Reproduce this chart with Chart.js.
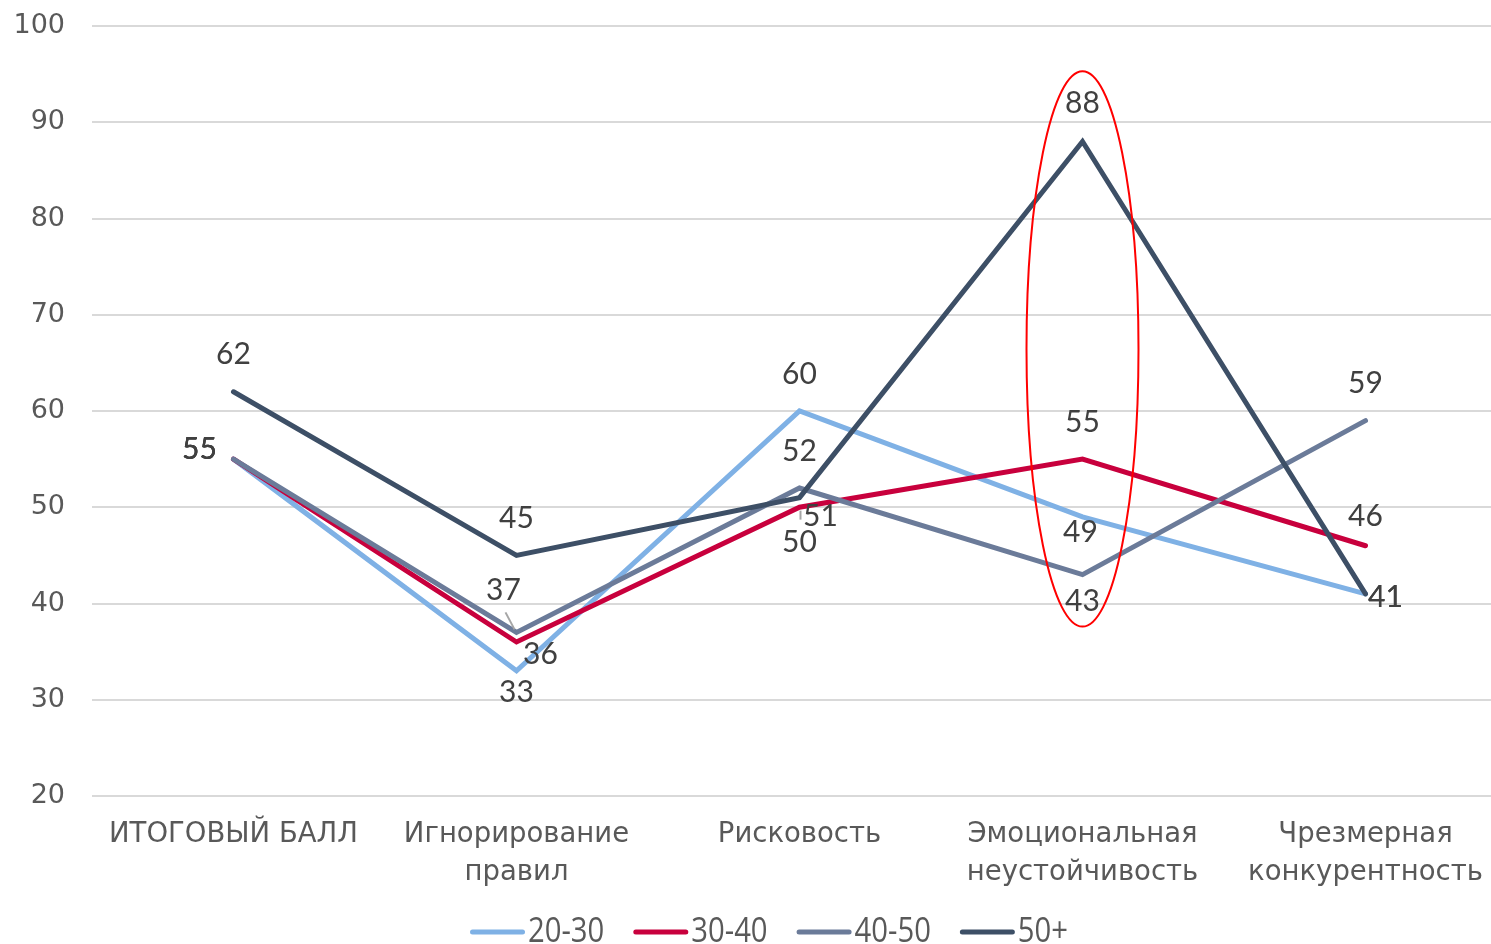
<!DOCTYPE html>
<html lang="ru">
<head>
<meta charset="utf-8">
<title>Профиль по возрастным группам</title>
<script src="https://cdn.jsdelivr.net/npm/chart.js@4.4.1/dist/chart.umd.min.js"></script>
<style>
  html, body { margin: 0; padding: 0; background: #ffffff; overflow: hidden; }
  #wrap { position: absolute; left: 0; top: 0; width: 1507px; height: 944px; }
</style>
</head>
<body>
<div id="wrap"><canvas id="chart"></canvas></div>
<script>
// Categories (two-line labels on the x axis)
const categories = [
  ['ИТОГОВЫЙ БАЛЛ'],
  ['Игнорирование', 'правил'],
  ['Рисковость'],
  ['Эмоциональная', 'неустойчивость'],
  ['Чрезмерная', 'конкурентность']
];

// Series by age group
const seriesNames = ['20-30', '30-40', '40-50', '50+'];
const age20_30 = [55, 33, 60, 49, 41];
const age30_40 = [55, 36, 50, 55, 46];
const age40_50 = [55, 37, 52, 43, 59];
const age50plus = [62, 45, 51, 88, 41];

// Value axis
const yMin = 20;
const yMax = 100;
const yStep = 10;

const colors = ['#7fb1e5', '#c8003d', '#6b7b99', '#3d4f66'];

// Label placement (pixel offset of each value label from its point)
const labelOffsets = [
  [[-34, -10], [0, 21], [0, -37], [-2, 15], [20, 3]],
  [[-34, -10], [24, 12], [0, 35], [0, -37], [0, -29]],
  [[-34, -10], [-13, -42], [0, -37], [0, 27], [0, -37]],
  [[0, -37], [0, -37], [21, 19], [0, -38], [20, 3]]
];
// Small leader lines: [series, point, x1, y1, x2, y2] relative to the point
const leaders = [
  [2, 1, -11, -20, -2, -3],
  [3, 2, 1, 13, 1, 22]
];

const seriesValues = [age20_30, age30_40, age40_50, age50plus];

const datasets = seriesNames.map((name, i) => ({
  label: name,
  data: seriesValues[i],
  borderColor: colors[i],
  backgroundColor: colors[i],
  borderWidth: 5,
  borderCapStyle: 'round',
  borderJoinStyle: 'miter',
  pointRadius: 0,
  pointHoverRadius: 0,
  tension: 0,
  fill: false,
  order: seriesNames.length - i
}));

// Value labels with leader lines
const valueLabels = {
  id: 'valueLabels',
  afterDatasetsDraw(chart) {
    const ctx = chart.ctx;
    ctx.save();
    ctx.strokeStyle = '#a6a6a6';
    ctx.lineWidth = 2;
    leaders.forEach(([s, p, x1, y1, x2, y2]) => {
      const el = chart.getDatasetMeta(s).data[p];
      ctx.beginPath();
      ctx.moveTo(el.x + x1, el.y + y1);
      ctx.lineTo(el.x + x2, el.y + y2);
      ctx.stroke();
    });
    ctx.font = '30px Lato, "Open Sans", sans-serif';
    ctx.fillStyle = '#404040';
    ctx.textAlign = 'center';
    ctx.textBaseline = 'middle';
    chart.data.datasets.forEach((ds, s) => {
      chart.getDatasetMeta(s).data.forEach((el, p) => {
        const [dx, dy] = labelOffsets[s][p];
        ctx.fillText(String(ds.data[p]), el.x + dx, el.y + dy);
      });
    });
    ctx.restore();
  }
};

// Red ellipse highlighting one category
const highlight = {
  id: 'highlight',
  afterDatasetsDraw(chart, args, opts) {
    const x = chart.scales.x.getPixelForValue(opts.index);
    const yTop = chart.scales.y.getPixelForValue(opts.top);
    const yBot = chart.scales.y.getPixelForValue(opts.bottom);
    const ctx = chart.ctx;
    ctx.save();
    ctx.strokeStyle = '#ff0000';
    ctx.lineWidth = 2;
    ctx.beginPath();
    ctx.ellipse(x, (yTop + yBot) / 2, opts.halfWidth, (yBot - yTop) / 2, 0, 0, Math.PI * 2);
    ctx.stroke();
    ctx.restore();
  }
};

// Legend drawn as a single row of line samples (narrowed text)
const lineLegend = {
  id: 'lineLegend',
  afterDraw(chart, args, opts) {
    const ctx = chart.ctx;
    ctx.save();
    ctx.font = opts.font;
    ctx.textBaseline = 'middle';
    ctx.textAlign = 'left';
    let x = opts.x;
    const y = opts.y;
    chart.data.datasets.forEach(ds => {
      ctx.strokeStyle = ds.borderColor;
      ctx.lineWidth = 5;
      ctx.lineCap = 'round';
      ctx.beginPath();
      ctx.moveTo(x + 2.5, y);
      ctx.lineTo(x + opts.sample - 2.5, y);
      ctx.stroke();
      ctx.fillStyle = '#595959';
      const tx = x + opts.sample + opts.gap;
      ctx.save();
      ctx.translate(tx, y);
      ctx.scale(opts.squeeze, 1);
      ctx.fillText(ds.label, 0, 0);
      ctx.restore();
      x = tx + ctx.measureText(ds.label).width * opts.squeeze + opts.spacing;
    });
    ctx.restore();
  }
};

new Chart(document.getElementById('chart'), {
  type: 'line',
  data: { labels: categories, datasets },
  plugins: [highlight, valueLabels, lineLegend],
  options: {
    responsive: true,
    maintainAspectRatio: false,
    devicePixelRatio: 1,
    animation: false,
    layout: { padding: { top: 26, left: 0, right: 0, bottom: 0 } },
    plugins: {
      legend: { display: false },
      tooltip: { enabled: false },
      highlight: { index: 3, top: 95.3, bottom: 37.6, halfWidth: 56 },
      lineLegend: {
        x: 470, y: 932, sample: 55, gap: 3, spacing: 29, squeeze: 0.86,
        font: '34px "Open Sans", sans-serif'
      }
    },
    scales: {
      x: {
        offset: true,
        grid: { display: false, drawTicks: false },
        border: { display: false },
        ticks: {
          color: '#595959',
          padding: 20,
          font: { family: '"DejaVu Sans", sans-serif', size: 27.5, lineHeight: 1.38 },
          maxRotation: 0,
          autoSkip: false
        },
        afterFit(scale) { scale.height = 148; }
      },
      y: {
        min: yMin,
        max: yMax,
        grid: { color: '#d9d9d9', lineWidth: 2, drawTicks: false },
        border: { display: false },
        ticks: {
          stepSize: yStep,
          color: '#595959',
          padding: 27,
          font: { family: '"DejaVu Sans", sans-serif', size: 27 }
        },
        afterFit(scale) {
          scale.width = 92;
          scale.paddingTop = 0;
          scale.paddingBottom = 0;
        }
      }
    }
  }
});
</script>
</body>
</html>
